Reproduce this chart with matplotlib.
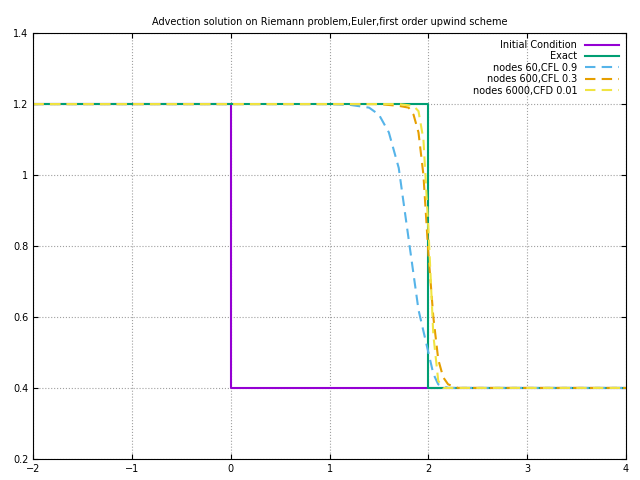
import matplotlib
matplotlib.use("Agg")
import matplotlib.pyplot as plt

# initial condition
x_init = [-2, 0, 0, 4]
y_init = [1.2, 1.2, 0.4, 0.4]
# exact solution
x_exact = [-2, 2, 2, 4]
y_exact = [1.2, 1.2, 0.4, 0.4]
# nodes 60, CFL 0.9
x_60 = [-2, 1.0, 1.2, 1.4, 1.5, 1.6, 1.7, 1.8, 1.9, 2.0, 2.05, 2.1, 2.2, 4]
y_60 = [1.2, 1.2, 1.198, 1.19, 1.17, 1.12, 1.02, 0.82, 0.62, 0.5, 0.44, 0.41, 0.4, 0.4]
# nodes 600, CFL 0.3
x_600 = [-2, 1.5, 1.7, 1.8, 1.85, 1.9, 1.95, 2.0, 2.05, 2.1, 2.15, 2.2, 2.3, 4]
y_600 = [1.2, 1.2, 1.195, 1.19, 1.17, 1.12, 1.0, 0.78, 0.6, 0.48, 0.43, 0.41, 0.4, 0.4]
# nodes 6000, CFL 0.01
x_6000 = [-2, 1.7, 1.85, 1.9, 1.95, 2.0, 2.05, 2.1, 2.15, 4]
y_6000 = [1.2, 1.2, 1.195, 1.18, 1.1, 0.85, 0.55, 0.42, 0.4, 0.4]

plt.rcParams["font.family"] = "DejaVu Sans"
fig, ax = plt.subplots(figsize=(6.4, 4.8), dpi=100)
fig.subplots_adjust(left=0.052, right=0.978, bottom=0.044, top=0.931)

ax.plot(x_init, y_init, color="#9400d3", lw=1.5, label="Initial Condition")
ax.plot(x_exact, y_exact, color="#009e73", lw=1.5, label="Exact")
ax.plot(x_60, y_60, color="#56b4e9", lw=1.5, ls=(0, (5, 3)), label="nodes 60,CFL 0.9")
ax.plot(x_600, y_600, color="#e69f00", lw=1.5, ls=(0, (5, 3)), label="nodes 600,CFL 0.3")
ax.plot(x_6000, y_6000, color="#f0e442", lw=1.5, ls=(0, (5, 3)), label="nodes 6000,CFD 0.01")

ax.set_xlim(-2, 4)
ax.set_ylim(0.2, 1.4)
ax.set_xticks([-2, -1, 0, 1, 2, 3, 4])
ax.set_yticks([0.2, 0.4, 0.6, 0.8, 1.0, 1.2, 1.4])
ax.set_yticklabels(["0.2", "0.4", "0.6", "0.8", "1", "1.2", "1.4"])
ax.tick_params(direction="in", labelsize=7, top=True, right=True)
ax.grid(True, ls=":", color="#a0a0a0", lw=0.8)
ax.set_title("Advection solution on Riemann problem,Euler,first order upwind scheme", fontsize=7)
ax.legend(loc="upper right", frameon=False, fontsize=7, markerfirst=False,
          handlelength=3.5, labelspacing=0.15, borderaxespad=0.3)
for t in ax.get_legend().get_texts():
    t.set_ha("right")

fig.savefig("out.png")
